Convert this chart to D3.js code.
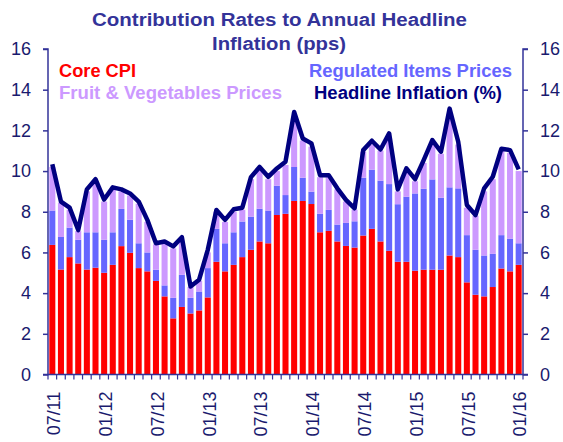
<!DOCTYPE html>
<html>
<head>
<meta charset="utf-8">
<script src="https://cdn.jsdelivr.net/npm/d3@7"></script>
<style>
  html, body { margin: 0; padding: 0; background: #ffffff; }
  svg { display: block; font-family: "Liberation Sans", Arial, sans-serif; }
</style>
</head>
<body>
<svg id="chart" width="563" height="442"></svg>
<script>
// ---- data ----
const months = [
  "07/11","08/11","09/11","10/11","11/11","12/11",
  "01/12","02/12","03/12","04/12","05/12","06/12","07/12","08/12","09/12","10/12","11/12","12/12",
  "01/13","02/13","03/13","04/13","05/13","06/13","07/13","08/13","09/13","10/13","11/13","12/13",
  "01/14","02/14","03/14","04/14","05/14","06/14","07/14","08/14","09/14","10/14","11/14","12/14",
  "01/15","02/15","03/15","04/15","05/15","06/15","07/15","08/15","09/15","10/15","11/15","12/15",
  "01/16"
];
const tickLabels = ["07/11","01/12","07/12","01/13","07/13","01/14","07/14","01/15","07/15","01/16"];
const yTicks = [0, 2, 4, 6, 8, 10, 12, 14, 16];

const coreCPI = [
  6.37, 5.16, 5.77, 5.46, 5.16, 5.25, 5.00, 5.39, 6.31, 5.98,
  5.23, 5.07, 4.60, 3.84, 2.76, 3.32, 3.00, 3.15, 3.79, 5.54,
  5.07, 5.39, 5.77, 6.13, 6.54, 6.45, 7.84, 7.90, 8.53, 8.53,
  8.38, 6.99, 7.06, 6.54, 6.32, 6.24, 6.83, 7.16, 6.54, 6.08,
  5.54, 5.54, 5.10, 5.15, 5.15, 5.15, 5.85, 5.77, 4.53, 3.92,
  3.84, 4.30, 5.21, 5.07, 5.39
];
const regulated = [
  1.69, 1.60, 1.45, 1.16, 1.83, 1.74, 1.62, 1.60, 1.83, 1.63,
  1.22, 0.93, 0.55, 0.54, 1.01, 1.58, 0.77, 0.93, 1.44, 1.62,
  1.38, 1.60, 1.75, 1.63, 1.61, 1.61, 1.44, 0.92, 1.67, 1.14,
  0.61, 0.91, 1.03, 0.83, 1.13, 1.29, 2.84, 2.91, 2.99, 3.28,
  2.83, 3.20, 3.80, 3.98, 4.44, 3.54, 3.35, 3.38, 2.32, 2.21,
  2.01, 1.63, 1.64, 1.61, 1.06
];
const fruitVeg = [
  2.14, 1.69, 0.88, 0.43, 2.01, 2.51, 1.88, 2.11, 0.86, 1.19,
  1.95, 1.50, 1.25, 2.07, 2.43, 1.60, 0.53, 0.52, 0.77, 0.84,
  1.05, 1.01, 0.58, 1.84, 1.95, 1.54, 0.72, 1.48, 2.40, 1.83,
  2.21, 1.80, 1.61, 1.73, 1.05, 0.57, 1.28, 1.23, 1.47, 2.24,
  0.63, 1.26, 0.60, 1.27, 1.81, 2.16, 3.60, 2.15, 1.35, 1.67,
  3.15, 3.67, 4.15, 4.22, 3.55
];
const headline = [
  10.34, 8.50, 8.20, 7.10, 9.10, 9.60, 8.60, 9.20, 9.10, 8.90,
  8.50, 7.60, 6.45, 6.54, 6.30, 6.75, 4.33, 4.66, 6.13, 8.09,
  7.60, 8.12, 8.20, 9.70, 10.20, 9.72, 10.13, 10.46, 12.90, 11.60,
  11.36, 9.80, 9.80, 9.15, 8.58, 8.17, 11.03, 11.49, 11.06, 11.85,
  9.10, 10.13, 9.60, 10.54, 11.52, 10.95, 13.07, 11.44, 8.33, 7.84,
  9.15, 9.72, 11.10, 11.03, 10.08
];

const seriesNames = ["Core CPI", "Regulated Items Prices", "Fruit & Vegetables Prices"];
const seriesColors = ["#FF0000", "#6666FF", "#CC99FF"];
const lineName = "Headline Inflation (%)";
const lineColor = "#000080";
const titleLines = ["Contribution Rates to Annual Headline", "Inflation (pps)"];

// ---- layout ----
const axisColor = "#333399";
const textColor = "#1A1A6E";
const plotLeft = 48, plotRight = 523, plotTop = 49, plotBottom = 374.5;

const svg = d3.select("#chart");

const x = d3.scaleBand().domain(months).range([plotLeft, plotRight]).paddingInner(0.3).paddingOuter(0.15);
const y = d3.scaleLinear().domain([0, 16]).range([plotBottom, plotTop]);

const table = months.map((m, i) => ({
  month: m, core: coreCPI[i], reg: regulated[i], fruit: fruitVeg[i], head: headline[i]
}));
const stack = d3.stack().keys(["core", "reg", "fruit"])(table);

// bars
svg.append("g").selectAll("g")
  .data(stack).join("g")
  .attr("fill", (d, i) => seriesColors[i])
  .selectAll("rect")
  .data(d => d).join("rect")
  .attr("x", d => x(d.data.month))
  .attr("width", x.bandwidth())
  .attr("y", d => y(d[1]))
  .attr("height", d => y(d[0]) - y(d[1]));

// left axis
const yAxisL = d3.axisLeft(y).tickValues(yTicks).tickSize(5).tickPadding(12).tickFormat(d3.format("d"));
const gL = svg.append("g").attr("transform", `translate(${plotLeft},0)`).call(yAxisL);
gL.select(".domain").attr("stroke", axisColor).attr("stroke-width", 1.5).attr("d", `M-5,${plotTop}H0V${plotBottom}H-5`);
gL.selectAll(".tick line").attr("stroke", axisColor).attr("stroke-width", 1.5);
gL.selectAll(".tick text").attr("fill", textColor).style("font-size", "18px")
  .style("font-family", "'Liberation Sans', Arial, sans-serif");

// right axis
const yAxisR = d3.axisRight(y).tickValues(yTicks).tickSize(5).tickPadding(12).tickFormat(d3.format("d"));
const gR = svg.append("g").attr("transform", `translate(${plotRight},0)`).call(yAxisR);
gR.select(".domain").attr("stroke", axisColor).attr("stroke-width", 1.5).attr("d", `M5,${plotTop}H0V${plotBottom}H5`);
gR.selectAll(".tick line").attr("stroke", axisColor).attr("stroke-width", 1.5);
gR.selectAll(".tick text").attr("fill", textColor).style("font-size", "18px")
  .style("font-family", "'Liberation Sans', Arial, sans-serif");

// bottom axis: line + small ticks at category boundaries
const gB = svg.append("g");
gB.append("line").attr("x1", plotLeft).attr("x2", plotRight).attr("y1", plotBottom).attr("y2", plotBottom)
  .attr("stroke", axisColor).attr("stroke-width", 1.5);
const step = x.step();
gB.selectAll("line.tk").data(months).join("line").attr("class", "tk")
  .attr("x1", d => x(d) - step * x.paddingInner() / 2)
  .attr("x2", d => x(d) - step * x.paddingInner() / 2)
  .attr("y1", plotBottom).attr("y2", plotBottom + 5)
  .attr("stroke", axisColor).attr("stroke-width", 1.2);
gB.append("line").attr("x1", plotRight).attr("x2", plotRight).attr("y1", plotBottom).attr("y2", plotBottom + 5)
  .attr("stroke", axisColor).attr("stroke-width", 1.2);
gB.selectAll("text").data(tickLabels).join("text")
  .attr("transform", d => `translate(${x(d) + x.bandwidth() / 2 + 1.5},${plotBottom + 17}) rotate(-90)`)
  .attr("text-anchor", "end")
  .attr("dy", "0.35em")
  .attr("fill", textColor)
  .style("font-size", "18px")
  .text(d => d);

// headline line
const line = d3.line()
  .x((d, i) => x(months[i]) + x.bandwidth() / 2)
  .y(d => y(d));
svg.append("path").datum(headline)
  .attr("fill", "none")
  .attr("stroke", lineColor)
  .attr("stroke-width", 4.5)
  .attr("stroke-linejoin", "round")
  .attr("d", line);

// title
svg.append("text").attr("x", 279.5).attr("y", 26).attr("text-anchor", "middle")
  .attr("fill", axisColor).style("font-size", "18px").style("font-weight", "bold")
  .attr("textLength", 375).attr("lengthAdjust", "spacingAndGlyphs")
  .text(titleLines[0]);
svg.append("text").attr("x", 279).attr("y", 50).attr("text-anchor", "middle")
  .attr("fill", axisColor).style("font-size", "18px").style("font-weight", "bold")
  .attr("textLength", 134).attr("lengthAdjust", "spacingAndGlyphs")
  .text(titleLines[1]);

// legend
const legend = [
  { t: seriesNames[0], c: seriesColors[0], x: 59, y: 77, w: 77 },
  { t: seriesNames[2], c: seriesColors[2], x: 59, y: 99, w: 223 },
  { t: seriesNames[1], c: seriesColors[1], x: 309, y: 77, w: 203 },
  { t: lineName, c: lineColor, x: 314, y: 99, w: 188 }
];
svg.append("g").selectAll("text").data(legend).join("text")
  .attr("x", d => d.x).attr("y", d => d.y)
  .attr("fill", d => d.c)
  .style("font-size", "18px").style("font-weight", "bold")
  .attr("textLength", d => d.w).attr("lengthAdjust", "spacingAndGlyphs")
  .text(d => d.t);
</script>
</body>
</html>
